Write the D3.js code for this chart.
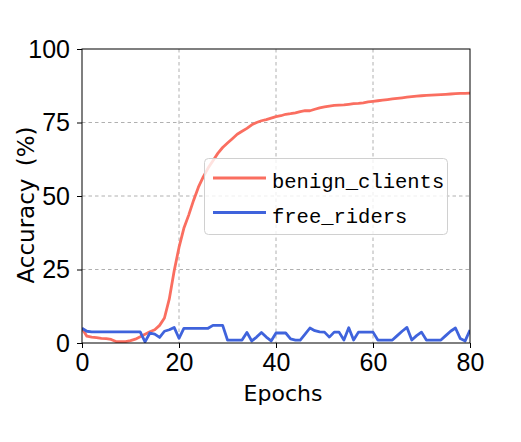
<!DOCTYPE html>
<html>
<head>
<meta charset="utf-8">
<script src="https://cdn.jsdelivr.net/npm/d3@7/dist/d3.min.js"></script>
<style>
  html, body { margin: 0; padding: 0; background: #fff; }
  svg { display: block; }
</style>
</head>
<body>
<div id="chart"></div>
<script>
// ---- data ----
const epochs = d3.range(0, 81);
const benignClients = [
  5.0, 2.3, 2.0, 1.8, 1.6, 1.5, 1.2, 0.5, 0.5, 0.5,
  0.8, 1.3, 2.1, 3.0, 3.8, 4.5, 6.0, 8.5, 15.0, 24.5,
  32.5, 39.0, 43.5, 48.5, 53.0, 56.5, 59.5, 62.0, 64.5, 66.5,
  68.0, 69.5, 71.0, 72.0, 73.0, 74.2, 75.0, 75.6, 76.0, 76.5,
  77.0, 77.3, 77.8, 78.0, 78.3, 78.7, 79.0, 79.0, 79.5, 80.0,
  80.3, 80.6, 80.8, 80.9, 81.0, 81.2, 81.4, 81.5, 81.7, 82.0,
  82.2, 82.4, 82.6, 82.8, 83.0, 83.2, 83.4, 83.6, 83.8, 84.0,
  84.1, 84.2, 84.3, 84.4, 84.5, 84.6, 84.7, 84.8, 84.9, 84.9,
  85.0
];
const freeRiders = [
  5.0, 4.0, 3.8, 3.8, 3.8, 3.8, 3.8, 3.8, 3.8, 3.8,
  3.8, 3.8, 3.8, 0.4, 3.4, 3.0, 1.9, 4.0, 4.5, 5.3,
  1.6, 5.0, 5.0, 5.0, 5.0, 5.0, 5.0, 6.0, 6.0, 6.0,
  1.0, 1.0, 1.0, 1.0, 3.6, 0.7, 2.0, 3.6, 2.0, 0.7,
  3.4, 3.4, 3.4, 1.4, 1.0, 1.0, 3.0, 5.1, 4.2, 3.8,
  3.7, 2.0, 3.7, 3.7, 1.0, 5.2, 1.0, 3.7, 3.7, 3.7,
  3.7, 1.0, 1.0, 1.0, 1.0, 2.5, 4.0, 5.3, 1.0, 2.5,
  3.7, 1.0, 1.0, 1.0, 1.0, 2.5, 4.0, 5.1, 1.5, 0.7,
  4.4
];
const seriesNames = ["benign_clients", "free_riders"];
const seriesColors = ["#fa6e60", "#3f63dc"];
const xTicks = [0, 20, 40, 60, 80];
const yTicks = [0, 25, 50, 75, 100];

// ---- layout ----
const W = 521, H = 442;
const mLeft = 82, mRight = 470, mTop = 49, mBottom = 343;

const svg = d3.select("#chart").append("svg")
  .attr("width", W).attr("height", H);

const x = d3.scaleLinear().domain([0, 80]).range([mLeft, mRight]);
const y = d3.scaleLinear().domain([0, 100]).range([mBottom, mTop]);

// grid
const grid = svg.append("g");
grid.selectAll("line.gx").data(xTicks.filter(t => t > 0 && t < 80)).join("line")
  .attr("x1", d => x(d)).attr("x2", d => x(d))
  .attr("y1", mTop).attr("y2", mBottom)
  .attr("stroke", "#b0b0b0").attr("stroke-width", 1).attr("stroke-dasharray", "3.5,3");
grid.selectAll("line.gy").data(yTicks.filter(t => t > 0 && t < 100)).join("line")
  .attr("x1", mLeft).attr("x2", mRight)
  .attr("y1", d => y(d)).attr("y2", d => y(d))
  .attr("stroke", "#b0b0b0").attr("stroke-width", 1).attr("stroke-dasharray", "3.5,3");

// clip
svg.append("clipPath").attr("id", "plotclip").append("rect")
  .attr("x", mLeft).attr("y", mTop).attr("width", mRight - mLeft).attr("height", mBottom - mTop);

const line = d3.line().x((d, i) => x(epochs[i])).y(d => y(d));
const lines = svg.append("g").attr("clip-path", "url(#plotclip)");
[benignClients, freeRiders].forEach((s, k) => {
  lines.append("path").datum(s)
    .attr("d", line)
    .attr("fill", "none")
    .attr("stroke", seriesColors[k])
    .attr("stroke-width", 2.8)
    .attr("stroke-linejoin", "round");
});

// frame
svg.append("rect").attr("x", mLeft).attr("y", mTop)
  .attr("width", mRight - mLeft).attr("height", mBottom - mTop)
  .attr("fill", "none").attr("stroke", "#000").attr("stroke-width", 1);

// axes
const xAxis = svg.append("g").attr("transform", `translate(0,${mBottom})`)
  .call(d3.axisBottom(x).tickValues(xTicks).tickFormat(d3.format("d")).tickSize(5).tickPadding(5));
const yAxis = svg.append("g").attr("transform", `translate(${mLeft},0)`)
  .call(d3.axisLeft(y).tickValues(yTicks).tickFormat(d3.format("d")).tickSize(5).tickPadding(7));
[xAxis, yAxis].forEach(a => {
  a.select(".domain").remove();
  a.selectAll(".tick line").attr("stroke", "#000");
  a.selectAll(".tick text")
    .attr("font-family", "'Liberation Sans', Arial, sans-serif")
    .attr("font-size", 25).attr("fill", "#000");
});

// axis labels
svg.append("text")
  .attr("x", 283).attr("y", 401)
  .attr("text-anchor", "middle")
  .attr("font-family", "'DejaVu Sans', sans-serif")
  .attr("font-size", 22).attr("fill", "#000")
  .text("Epochs");

const yl = svg.append("text")
  .attr("transform", "translate(34,205) rotate(-90)")
  .attr("text-anchor", "middle")
  .attr("font-family", "'DejaVu Sans', sans-serif")
  .attr("font-size", 23).attr("fill", "#000");
yl.append("tspan").text("Accuracy ");
yl.append("tspan").attr("dx", 5).text("(%)");

// legend
const lg = svg.append("g");
lg.append("rect")
  .attr("x", 204.5).attr("y", 158.5).attr("width", 243).attr("height", 76)
  .attr("rx", 4).attr("ry", 4)
  .attr("fill", "#fff").attr("fill-opacity", 0.8)
  .attr("stroke", "#d0d0d0").attr("stroke-width", 1);
seriesNames.forEach((name, k) => {
  const ly = 178 + k * 34.5;
  lg.append("line")
    .attr("x1", 213).attr("x2", 266).attr("y1", ly).attr("y2", ly)
    .attr("stroke", seriesColors[k]).attr("stroke-width", 2.8);
  lg.append("text")
    .attr("x", 272).attr("y", ly + 10)
    .attr("font-family", "'Liberation Mono', monospace")
    .attr("font-size", 20.5).attr("fill", "#000")
    .text(name);
});
</script>
</body>
</html>
